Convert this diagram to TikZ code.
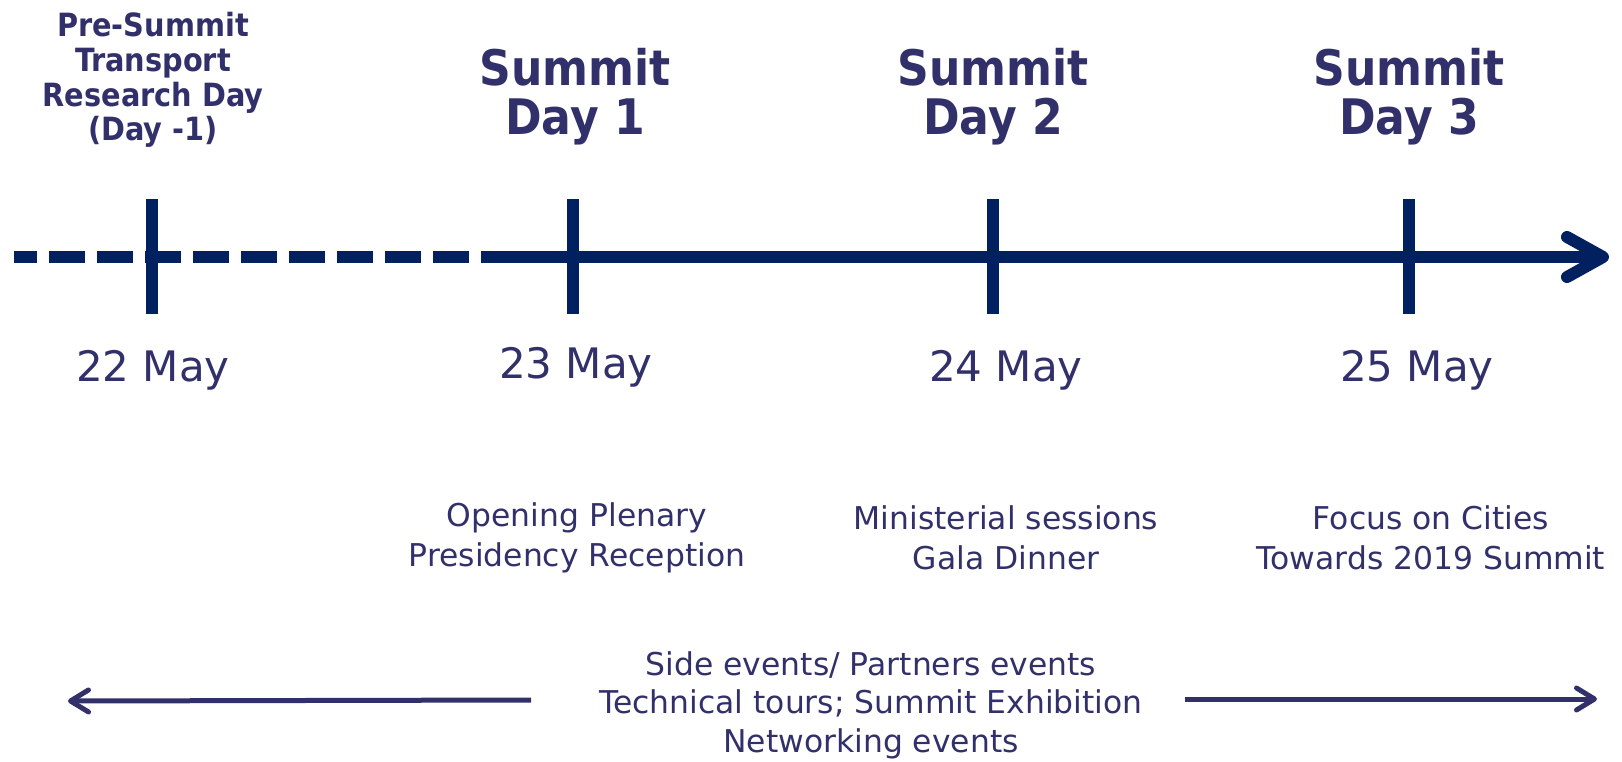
\documentclass[tikz,border=0pt]{standalone}
\usepackage{fontspec}
\setmainfont{DejaVu Sans}
\newfontfamily\condfont{DejaVu Sans Condensed}
\usetikzlibrary{arrows.meta, positioning}
\definecolor{axisblue}{RGB}{0,32,96}
\definecolor{textblue}{RGB}{50,48,106}

\begin{document}
\begin{tikzpicture}[x=0.5pt, y=-0.5pt, text=textblue,
    axis line/.style={draw=axisblue, line width=6pt},
    title node/.style={align=center, inner sep=0pt, font=\condfont\fontsize{24.5}{24.5}\selectfont\bfseries},
    pre node/.style={align=center, inner sep=0pt, font=\condfont\fontsize{16}{17.3}\selectfont\bfseries},
    date node/.style={inner sep=0pt, font=\fontsize{21}{25}\selectfont},
    event node/.style={align=center, inner sep=0pt, font=\fontsize{15.7}{20}\selectfont},
    side arrow/.style={draw=textblue, line width=2.5pt,
      -{Straight Barb[length=9pt, width=11pt, line cap=round, line join=round]}}]
  \useasboundingbox (0,0) rectangle (1622,761);
  \coordinate (start) at (14,257);
  \coordinate (dash end) at (469,257);
  \coordinate (solid start) at (481,257);
  \coordinate (tip) at (1609,257);
  \coordinate (t22) at (152,257);
  \coordinate (t23) at (573,257);
  \coordinate (t24) at (993,257);
  \coordinate (t25) at (1409,257);
  \draw[axis line, dash pattern=on 18pt off 6pt, dash phase=6.5pt] (start) -- (dash end);
  \draw[axis line, -{Straight Barb[length=18pt, width=20pt, line cap=round, line join=round]}] (solid start) -- (tip);
  \draw[axis line] ([yshift=29pt]t22) -- ([yshift=-28.5pt]t22);
  \draw[axis line] ([yshift=29pt]t23) -- ([yshift=-28.5pt]t23);
  \draw[axis line] ([yshift=29pt]t24) -- ([yshift=-28.5pt]t24);
  \draw[axis line] ([yshift=29pt]t25) -- ([yshift=-28.5pt]t25);
  \node[pre node] (pre) at (153,80) {Pre-Summit\\Transport\\Research Day\\(Day -1)};
  \node[title node] (day1) at (575,97) {Summit\\Day 1};
  \node[title node] (day2) at (993,97) {Summit\\Day 2};
  \node[title node] (day3) at (1409,97) {Summit\\Day 3};
  \node[date node] (d22) at (153,370) {22 May};
  \node[date node] (d23) at (576,367) {23 May};
  \node[date node] (d24) at (1006,370) {24 May};
  \node[date node] (d25) at (1417,370) {25 May};
  \node[event node] (ev1) at (577,538) {Opening Plenary\\Presidency Reception};
  \node[event node] (ev2) at (1006,538) {Ministerial sessions\\Gala Dinner};
  \node[event node] (ev3) at (1431,538) {Focus on Cities\\Towards 2019 Summit};
  \node[event node, font=\fontsize{15.7}{19.3}\selectfont] (side) at (871,705) {Side events/ Partners events\\Technical tours; Summit Exhibition\\Networking events};
  \coordinate (left from) at (531,700);
  \coordinate (left end) at (68,701);
  \coordinate (right from) at (1185,699);
  \coordinate (right end) at (1597,699);
  \draw[side arrow] (left from) -- (left end);
  \draw[side arrow] (right from) -- (right end);
\end{tikzpicture}
\end{document}
